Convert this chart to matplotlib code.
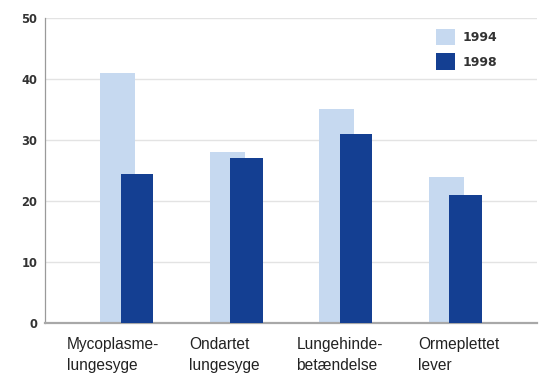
import numpy as np
import matplotlib.pyplot as plt

# Data
categories = ['Mycoplasme-\nlungesyge', 'Ondartet\nlungesyge',
              'Lungehinde-\nbetændelse', 'Ormeplettet\nlever']
series_1994 = [41, 28, 35, 24]
series_1998 = [24.5, 27, 31, 21]
years = ['1994', '1998']
yticks = [0, 10, 20, 30, 40, 50]

# Styling
light_blue = '#c6d9f0'
dark_blue = '#143f92'
label_shift = [-0.545, -0.43, -0.45, -0.34]

fig = plt.figure(figsize=(5.39, 3.73), dpi=100)
ax = fig.add_axes([0.0835, 0.134, 0.913, 0.818])

x = np.arange(len(categories))
ax.bar(x - 0.082, series_1994, width=0.32, color=light_blue, label=years[0], zorder=2)
ax.bar(x + 0.096, series_1998, width=0.30, color=dark_blue, label=years[1], zorder=3)

ax.set_xlim(-0.745, 3.75)
ax.set_ylim(0, 50)
ax.set_yticks(yticks)
ax.set_xticks([])
for t in yticks[1:]:
    ax.axhline(t, color='#e3e3e3', linewidth=1.0, zorder=0)

for s in ['top', 'right']:
    ax.spines[s].set_visible(False)
ax.spines['left'].set_color('#9a9a9a')
ax.spines['left'].set_linewidth(0.9)
ax.spines['bottom'].set_color('#a8a8a8')
ax.spines['bottom'].set_linewidth(1.6)
ax.tick_params(axis='y', length=0, pad=5.5, labelsize=8.3, labelcolor='#333333')
for lbl in ax.get_yticklabels():
    lbl.set_fontweight('bold')

# Category labels, left aligned under each group
for i, name in enumerate(categories):
    ax.text(i + label_shift[i], -2.3, name, ha='left', va='top',
            fontsize=11.2, color='#222222', family='Liberation Sans',
            linespacing=1.5, transform=ax.transData)

leg = ax.legend(loc='upper left', bbox_to_anchor=(0.787, 0.975), frameon=False,
                handlelength=1.55, handleheight=1.6, handletextpad=0.55,
                labelspacing=0.65, borderaxespad=0, borderpad=0.3,
                prop={'size': 9, 'weight': 'bold'})
for t in leg.get_texts():
    t.set_color('#333333')

fig.savefig('out.png', dpi=100)
